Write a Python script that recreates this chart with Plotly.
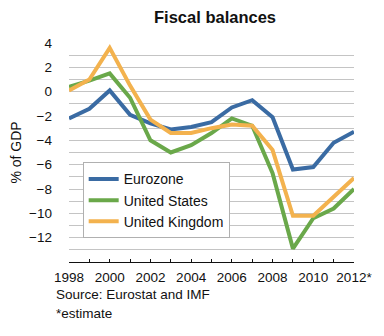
import plotly.graph_objects as go

years = list(range(1998, 2013))
eurozone = [-2.2, -1.4, 0.1, -1.9, -2.6, -3.1, -2.9, -2.5, -1.3, -0.7, -2.1, -6.4, -6.2, -4.2, -3.3]
united_states = [0.4, 0.9, 1.5, -0.5, -4.0, -5.0, -4.4, -3.4, -2.2, -2.8, -6.7, -12.9, -10.4, -9.6, -8.0]
united_kingdom = [0.1, 1.0, 3.6, 0.5, -2.3, -3.4, -3.4, -3.0, -2.7, -2.8, -4.8, -10.2, -10.2, -8.6, -7.1]

x_tick_vals = [1998, 2000, 2002, 2004, 2006, 2008, 2010, 2012]
x_tick_text = ["1998", "2000", "2002", "2004", "2006", "2008", "2010", "2012*"]
y_tick_vals = [4, 2, 0, -2, -4, -6, -8, -10, -12]

series = [
    ("Eurozone", eurozone, "#3a6ba3"),
    ("United States", united_states, "#6aa84a"),
    ("United Kingdom", united_kingdom, "#f3b24e"),
]

FONT = "Liberation Sans, Arial, Helvetica, sans-serif"

fig = go.Figure()
for name, vals, col in series:
    fig.add_trace(go.Scatter(x=years, y=vals, name=name, mode="lines",
                             line=dict(color=col, width=4)))

fig.update_layout(
    width=384, height=336,
    margin=dict(l=69, r=22, t=43, b=74),
    paper_bgcolor="white", plot_bgcolor="white",
    font=dict(family=FONT, size=13.5, color="#111"),
    title=dict(text="<b>Fiscal balances</b>", x=0.56, xanchor="center",
               y=1 - 17 / 336, yanchor="middle", font=dict(size=16.5, color="#111")),
    showlegend=True,
    legend=dict(x=0.048, y=0.455, xanchor="left", yanchor="top",
                bgcolor="white", bordercolor="#b0b0b0", borderwidth=1,
                font=dict(size=14), itemwidth=30, tracegroupgap=0),
)

fig.update_xaxes(
    range=[1998, 2012], tickvals=x_tick_vals, ticktext=x_tick_text,
    showgrid=False, zeroline=False, showline=True, linecolor="#111", linewidth=1,
    ticks="inside", ticklen=3, tickcolor="#111",
    minor=dict(dtick=1, ticks="inside", ticklen=3, tickcolor="#111", showgrid=False),
    ticklabelstandoff=3,
)
fig.update_yaxes(
    range=[-14, 4], tickvals=y_tick_vals,
    showgrid=True, gridcolor="#c4c4c4", gridwidth=1.3, zeroline=False,
    showline=False, ticks="",
    minor=dict(dtick=1, tick0=0, showgrid=True, gridcolor="#c4c4c4", gridwidth=1.3),
    ticklabelstandoff=16,
    title=dict(text="% of GDP", font=dict(size=14), standoff=4),
)

fig.add_annotation(text="Source: Eurostat and IMF", xref="paper", yref="paper",
                   x=(54 - 69) / 293, y=(262.5 - 295) / 219, xanchor="left", yanchor="middle",
                   showarrow=False, font=dict(size=13.5))
fig.add_annotation(text="*estimate", xref="paper", yref="paper",
                   x=(54 - 69) / 293, y=(262.5 - 313.5) / 219, xanchor="left", yanchor="middle",
                   showarrow=False, font=dict(size=13.5))

fig.write_html("out.html")
